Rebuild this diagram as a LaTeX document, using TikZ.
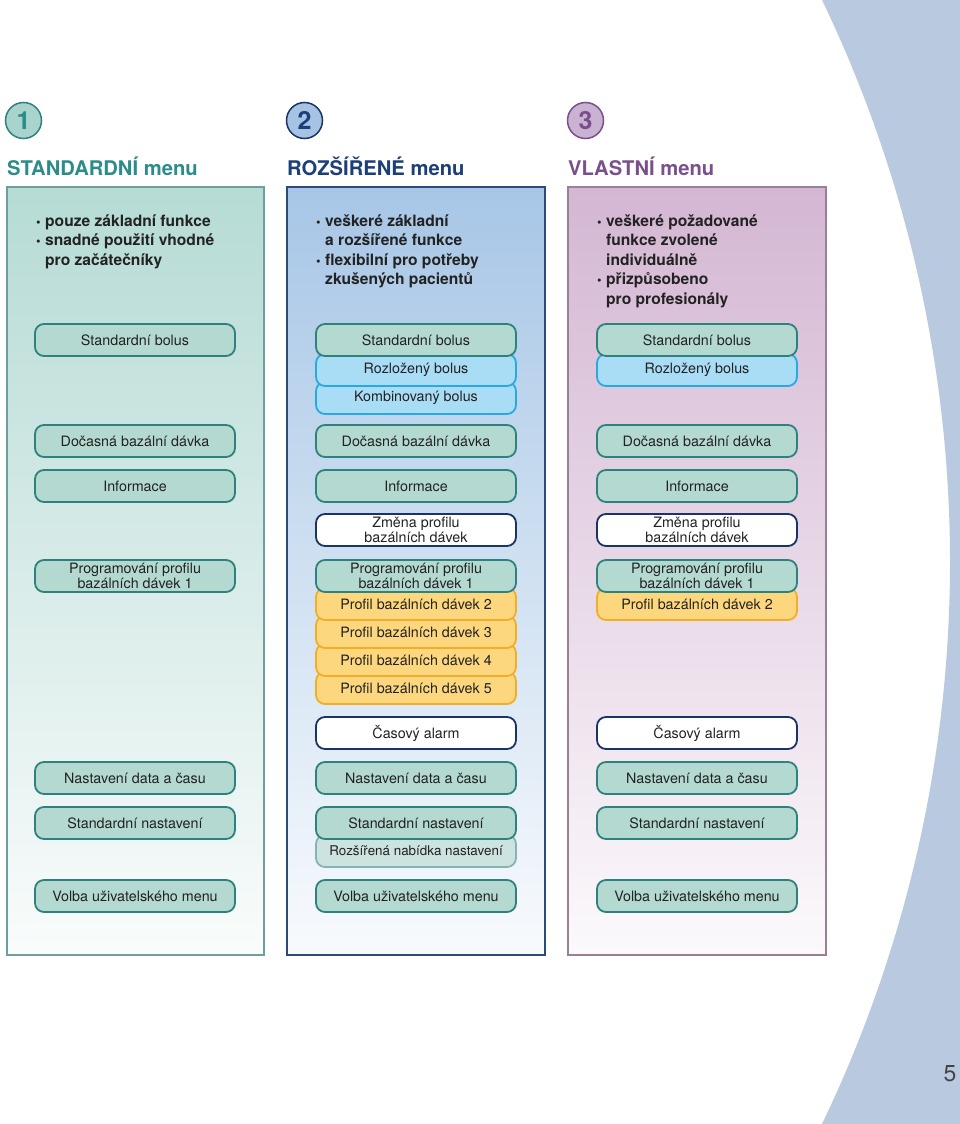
\documentclass[tikz,border=0pt]{standalone}
\usepackage{fontspec}
\setmainfont{TeX Gyre Heros}
\definecolor{tealfill}{HTML}{B3D9D1}
\definecolor{tealline}{HTML}{2F817D}
\definecolor{bluefill}{HTML}{A9DCF5}
\definecolor{blueline}{HTML}{29A9E1}
\definecolor{yelfill}{HTML}{FDD77D}
\definecolor{yelline}{HTML}{F2AE2A}
\definecolor{navyline}{HTML}{1B3466}
\definecolor{palefill}{HTML}{CDE3DF}
\definecolor{paleline}{HTML}{86B5B1}
\definecolor{blobcol}{HTML}{B9C9E0}
\definecolor{panelA}{HTML}{B6DBD5}
\definecolor{panelB}{HTML}{A7C6E6}
\definecolor{panelC}{HTML}{D4B7D3}
\definecolor{borderA}{HTML}{6E9F9D}
\definecolor{borderB}{HTML}{2D4A7A}
\definecolor{borderC}{HTML}{9A7F99}
\definecolor{headA}{HTML}{2B8C8A}
\definecolor{headB}{HTML}{1C3F78}
\definecolor{headC}{HTML}{7A4F8C}
\definecolor{circA}{HTML}{A9D4CD}
\definecolor{circB}{HTML}{A7C3E4}
\definecolor{circC}{HTML}{C9B2D2}
\definecolor{textcol}{HTML}{222222}
\newcommand{\bdot}{\makebox[9pt][l]{\fontsize{13}{13}\selectfont•}}
\begin{document}
\begin{tikzpicture}[x=1pt,y=-1pt,
  box/.style={draw, rounded corners=9pt, line width=1.8pt, minimum width=200pt,
    minimum height=32pt, inner sep=0pt, align=center, text=textcol,
    font=\fontsize{14.3}{15}\selectfont},
  tealbox/.style={box, fill=tealfill, draw=tealline},
  bluebox/.style={box, fill=bluefill, draw=blueline},
  yelbox/.style={box, fill=yelfill, draw=yelline},
  whitebox/.style={box, fill=white, draw=navyline},
  palebox/.style={box, fill=palefill, draw=paleline, font=\fontsize{13.4}{15}\selectfont},
  panel/.style={line width=1.3pt},
  head/.style={anchor=base west, inner sep=0pt, font=\fontsize{20.2}{24}\bfseries},
  numcirc/.style={circle, line width=1.5pt, minimum size=36pt, inner sep=0pt,
    font=\fontsize{25}{25}\bfseries},
  bul/.style={anchor=base west, inner sep=0pt, text=textcol, font=\fontsize{15.6}{19}\bfseries},
]
\useasboundingbox (0,0) rectangle (960,1124);
% right background shape
\fill[blobcol] (960,0) -- (822,0) .. controls (906.3,175.4) and (950,367.4) .. (950,562)
  .. controls (950,756.6) and (906.3,948.6) .. (822,1124) -- (960,1124) -- cycle;

% panels
\draw[panel, draw=borderA, top color=panelA, bottom color=panelA!8!white] (7,187) rectangle (264,955);
\draw[panel, draw=borderB, top color=panelB, bottom color=panelB!8!white] (287,187) rectangle (545,955);
\draw[panel, draw=borderC, top color=panelC, bottom color=panelC!8!white] (568,187) rectangle (826,955);

% numbers
\node[numcirc, draw=tealline, fill=circA, text=headA] (n1) at (23.5,120.5) {1};
\node[numcirc, draw=navyline, fill=circB, text=headB] (n2) at (304.5,120.5) {2};
\node[numcirc, draw=headC, fill=circC, text=headC] (n3) at (585.5,120.5) {3};

% headers
\node[head, text=headA] (h1) at (7,175) {STANDARDNÍ menu};
\node[head, text=headB] (h2) at (287,175) {ROZŠÍŘENÉ menu};
\node[head, text=headC] (h3) at (568,175) {VLASTNÍ menu};

% bullet texts
\node[bul] (a1) at (36,226) {\bdot pouze základní funkce};
\node[bul] (a2) at (36,245.5) {\bdot snadné použití vhodné};
\node[bul] (a3) at (45,265) {pro začátečníky};

\node[bul] (b1) at (316,226) {\bdot veškeré základní};
\node[bul] (b2) at (325,245.5) {a rozšířené funkce};
\node[bul] (b3) at (316,265) {\bdot flexibilní pro potřeby};
\node[bul] (b4) at (325,284.5) {zkušených pacientů};

\node[bul] (d1) at (597,226) {\bdot veškeré požadované};
\node[bul] (d2) at (606,245.5) {funkce zvolené};
\node[bul] (d3) at (606,265) {individuálně};
\node[bul] (d4) at (597,284.5) {\bdot přizpůsobeno};
\node[bul] (d5) at (606,304) {pro profesionály};

% column 1
\node[tealbox] (c1sb) at (135,340) {Standardní bolus};
\node[tealbox] (c1dbd) at (135,441) {Dočasná bazální dávka};
\node[tealbox] (c1inf) at (135,486) {Informace};
\node[tealbox] (c1prog) at (135,576) {Programování profilu\\bazálních dávek 1};
\node[tealbox] (c1ndc) at (135,778) {Nastavení data a času};
\node[tealbox] (c1sn) at (135,823) {Standardní nastavení};
\node[tealbox] (c1vum) at (135,896) {Volba uživatelského menu};

% column 2
\node[bluebox] (c2kb) at (416,398) {Kombinovaný bolus};
\node[bluebox] (c2rb) at (416,370) {Rozložený bolus};
\node[tealbox] (c2sb) at (416,340) {Standardní bolus};
\node[tealbox] (c2dbd) at (416,441) {Dočasná bazální dávka};
\node[tealbox] (c2inf) at (416,486) {Informace};
\node[whitebox] (c2zm) at (416,530) {Změna profilu\\bazálních dávek};
\node[yelbox] (c2p5) at (416,688) {Profil bazálních dávek 5};
\node[yelbox] (c2p4) at (416,660) {Profil bazálních dávek 4};
\node[yelbox] (c2p3) at (416,632) {Profil bazálních dávek 3};
\node[yelbox] (c2p2) at (416,604) {Profil bazálních dávek 2};
\node[tealbox] (c2prog) at (416,576) {Programování profilu\\bazálních dávek 1};
\node[whitebox] (c2cas) at (416,733) {Časový alarm};
\node[tealbox] (c2ndc) at (416,778) {Nastavení data a času};
\node[palebox] (c2rn) at (416,851) {Rozšířená nabídka nastavení};
\node[tealbox] (c2sn) at (416,823) {Standardní nastavení};
\node[tealbox] (c2vum) at (416,896) {Volba uživatelského menu};

% column 3
\node[bluebox] (c3rb) at (697,370) {Rozložený bolus};
\node[tealbox] (c3sb) at (697,340) {Standardní bolus};
\node[tealbox] (c3dbd) at (697,441) {Dočasná bazální dávka};
\node[tealbox] (c3inf) at (697,486) {Informace};
\node[whitebox] (c3zm) at (697,530) {Změna profilu\\bazálních dávek};
\node[yelbox] (c3p2) at (697,604) {Profil bazálních dávek 2};
\node[tealbox] (c3prog) at (697,576) {Programování profilu\\bazálních dávek 1};
\node[whitebox] (c3cas) at (697,733) {Časový alarm};
\node[tealbox] (c3ndc) at (697,778) {Nastavení data a času};
\node[tealbox] (c3sn) at (697,823) {Standardní nastavení};
\node[tealbox] (c3vum) at (697,896) {Volba uživatelského menu};

% page number
\node[anchor=base, inner sep=0pt, text=textcol!85!white, font=\fontsize{23}{24}\selectfont] (pg) at (950,1081) {5};
\end{tikzpicture}
\end{document}
